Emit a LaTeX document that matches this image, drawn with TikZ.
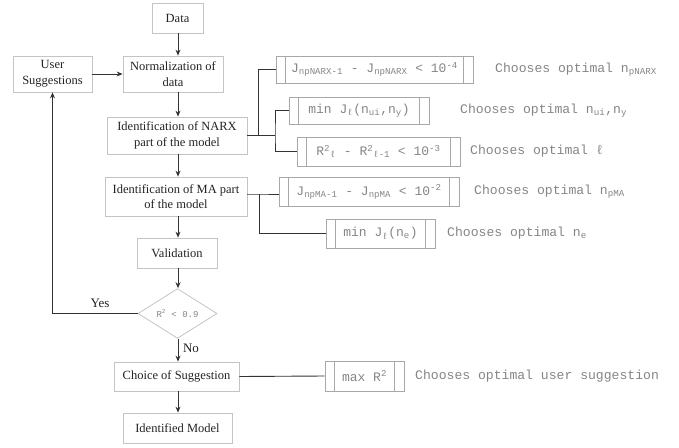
\documentclass[tikz,border=0pt]{standalone}
\usepackage{fontspec}
\setmainfont{Liberation Serif}
\newfontfamily\monofam{Liberation Mono}
\usetikzlibrary{shapes.geometric,arrows.meta}
\definecolor{boxgray}{HTML}{C4C4C4}
\definecolor{rboxgray}{HTML}{A8A8A8}
\definecolor{rtext}{HTML}{858585}
\definecolor{linecol}{HTML}{333333}
\definecolor{maintext}{HTML}{222222}
\newcommand{\sbs}[1]{\textsubscript{#1}}
\newcommand{\sps}[1]{\textsuperscript{#1}}
\tikzset{
  mainbox/.style={draw=boxgray, line width=0.8pt, rectangle, align=center, inner sep=2pt,
    font=\fontsize{12.5}{15.5}\selectfont, text=maintext},
  rbox/.style={draw=rboxgray, line width=0.7pt, rectangle, inner sep=0pt, text=rtext,
    font=\monofam\fontsize{13}{14}\selectfont,
    path picture={
      \draw[rboxgray, line width=0.7pt] ([xshift=9.5pt]path picture bounding box.north west) -- ([xshift=9.5pt]path picture bounding box.south west);
      \draw[rboxgray, line width=0.7pt] ([xshift=-9.5pt]path picture bounding box.north east) -- ([xshift=-9.5pt]path picture bounding box.south east);
    }},
  rlabel/.style={anchor=west, text=rtext, inner sep=0pt, font=\monofam\fontsize{13.1}{14}\selectfont},
  arr/.style={draw=linecol, line width=0.9pt, -{Stealth[length=6pt,width=5pt]}},
  conn/.style={draw=linecol, line width=0.9pt},
  lbl/.style={text=maintext, font=\fontsize{13}{15}\selectfont, inner sep=0pt}
}
\begin{document}
\begin{tikzpicture}[x=1pt,y=-1pt]
\useasboundingbox (0,0) rectangle (679,447);

% main flow
\node[mainbox, minimum width=51pt, minimum height=30pt] (data) at (177.5,18) {Data};
\node[mainbox, minimum width=100pt, minimum height=36pt] (norm) at (173,74) {Normalization of\\data};
\node[mainbox, minimum width=79pt, minimum height=36pt] (user) at (52.5,74) {User\\Suggestions};
\node[mainbox, minimum width=140pt, minimum height=37pt] (narx) at (177,135.5) {Identification of NARX\\part of the model};
\node[mainbox, minimum width=142pt, minimum height=39pt] (ma) at (176,196.5) {Identification of MA part\\of the model};
\node[mainbox, minimum width=80pt, minimum height=30pt] (valid) at (177,253) {Validation};
\node[diamond, draw=boxgray, line width=0.8pt, minimum width=79pt, minimum height=47pt, inner sep=0pt,
      text=rtext, font=\monofam\fontsize{9}{10}\selectfont] (dec) at (177.5,313.5) {R\sps{2} < 0.9};
\node[mainbox, minimum width=125pt, minimum height=29pt] (choice) at (176.5,376.5) {Choice of Suggestion};
\node[mainbox, minimum width=109pt, minimum height=30pt] (ident) at (177.5,428) {Identified Model};

\draw[arr] (data.south -| 178,0) -- (norm.north -| 178,0);
\draw[arr] (norm.south -| 178,0) -- (narx.north -| 178,0);
\draw[arr] (narx.south -| 178,0) -- (ma.north -| 178,0);
\draw[arr] (ma.south -| 178,0) -- (valid.north -| 178,0);
\draw[arr] (valid.south -| 178,0) -- (dec.north -| 178,0);
\draw[arr] (dec.south -| 178,0) -- (choice.north -| 178,0);
\draw[arr] (choice.south -| 178,0) -- (ident.north -| 178,0);
\draw[arr] (user.east) -- (norm.west);
\draw[arr] (dec.west) -| (user.south);

\node[lbl] (yes) at (100,303) {Yes};
\node[lbl] (no) at (191,348) {No};

% right side boxes
\node[rbox, minimum width=197pt, minimum height=27pt] (b1) at (374.5,69.5)
  {J\sbs{npNARX-1} - J\sbs{npNARX} < 10\sps{-4}};
\node[rbox, minimum width=140pt, minimum height=27pt] (b2) at (359,110.5)
  {min J\sbs{ℓ}(n\sbs{ui},n\sbs{y})};
\node[rbox, minimum width=163pt, minimum height=29pt] (b3) at (378.5,151.5)
  {R\sps{2}\sbs{ℓ} - R\sps{2}\sbs{ℓ-1} < 10\sps{-3}};
\node[rbox, minimum width=180pt, minimum height=29pt] (b4) at (369,192)
  {J\sbs{npMA-1} - J\sbs{npMA} < 10\sps{-2}};
\node[rbox, minimum width=109pt, minimum height=29pt] (b5) at (380.5,233.5)
  {min J\sbs{ℓ}(n\sbs{e})};
\node[rbox, minimum width=79pt, minimum height=30pt] (b6) at (364.5,376)
  {max R\sps{2}};

\node[rlabel] (t1) at (495,69.5) {Chooses optimal n\sbs{pNARX}};
\node[rlabel] (t2) at (460,110.5) {Chooses optimal n\sbs{ui},n\sbs{y}};
\node[rlabel] (t3) at (470,151.5) {Chooses optimal ℓ};
\node[rlabel] (t4) at (474,192) {Chooses optimal n\sbs{pMA}};
\node[rlabel] (t5) at (447,233.5) {Chooses optimal n\sbs{e}};
\node[rlabel] (t6) at (415,376) {Chooses optimal user suggestion};

% connectors
\coordinate (j1) at (258,135.5);
\coordinate (j2) at (275,135.5);
\draw[conn] (narx.east) -- (j1) |- (b1.west);
\draw[conn] (j1) -- (j2);
\draw[conn] (b2.west) -| (j2) |- (b3.west);
\coordinate (j3) at (259,194);
\draw[conn] (ma.east |- j3) -- (j3) -- (b4.west |- j3);
\draw[conn] (j3) |- (b5.west);
\draw[conn] (choice.east) -- (b6.west);
\end{tikzpicture}
\end{document}
